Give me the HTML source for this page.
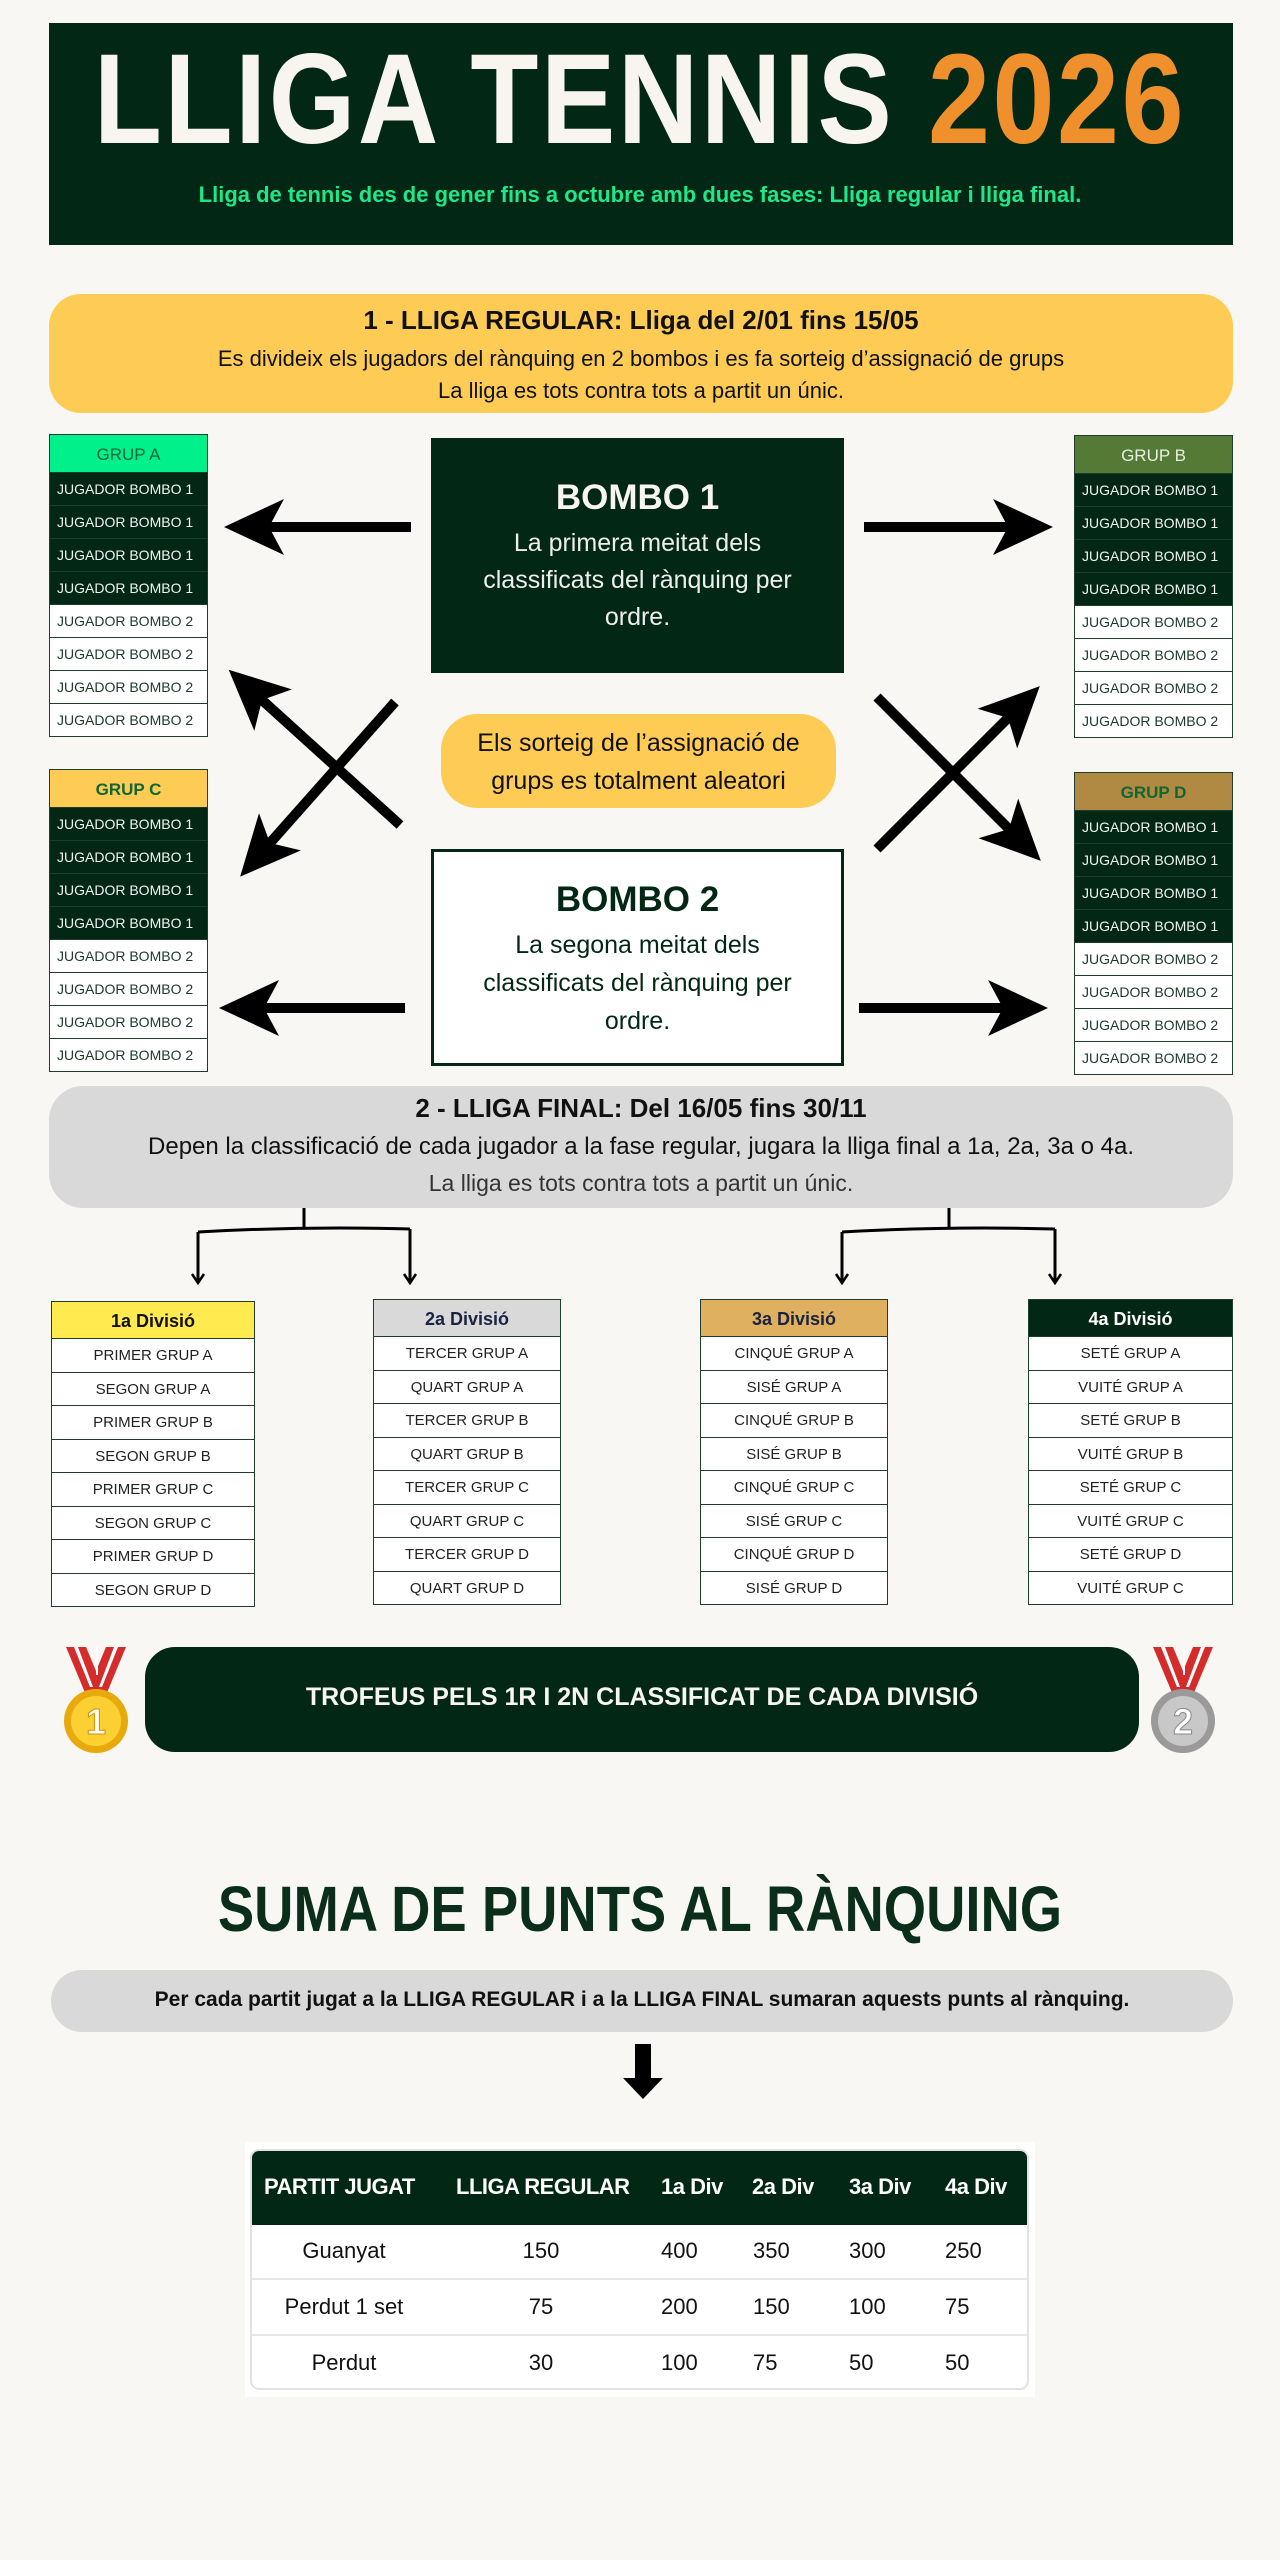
<!DOCTYPE html>
<html><head><meta charset="utf-8"><style>
*{margin:0;padding:0;box-sizing:border-box}
body{width:1280px;height:2560px;background:#f8f7f3;position:relative;font-family:"Liberation Sans",sans-serif;overflow:hidden}
.a{position:absolute}
.c{text-align:center}
.grp{position:absolute;width:159px}
.grp div{height:33px;line-height:33px;font-size:14px;padding-left:7px;border:1px solid #1f3d2a;border-top:none;white-space:nowrap;overflow:hidden}
.grp .h{height:39px;line-height:39px;font-size:17px;text-align:center;padding:0;border-top:1px solid #1f3d2a}
.grp .d{background:#022815;color:#f2f2f2}
.grp .w{background:#fff;color:#1b3a29}
.div{position:absolute}
.div div{height:33.5px;line-height:33px;font-size:15px;text-align:center;border:1.5px solid #1f3d2a;border-top:none;background:#fff;color:#222}
.div .h{height:38px;line-height:38px;font-size:18px;font-weight:bold;border-top:1.5px solid #1f3d2a}
</style></head><body>

<div class="a" style="left:49px;top:23px;width:1184px;height:222px;background:#022815"></div>
<div class="a c" style="left:0;top:30px;width:1280px;font-size:128px;font-weight:bold;line-height:140px;color:#f7f5ee;transform:scaleX(0.87);letter-spacing:3px">LLIGA TENNIS <span style="color:#f0902c">2026</span></div>
<div class="a c" style="left:0;top:182px;width:1280px;font-size:22px;font-weight:bold;color:#1ce88a">Lliga de tennis des de gener fins a octubre amb dues fases: Lliga regular i lliga final.</div>

<div class="a" style="left:49px;top:294px;width:1184px;height:119px;background:#fecb55;border-radius:32px"></div>
<div class="a c" style="left:49px;top:305px;width:1184px;font-size:26px;font-weight:bold;color:#111">1 - LLIGA REGULAR: Lliga del 2/01 fins 15/05</div>
<div class="a c" style="left:49px;top:343px;width:1184px;font-size:22px;color:#111;line-height:32px">Es divideix els jugadors del rànquing en 2 bombos i es fa sorteig d’assignació de grups<br>La lliga es tots contra tots a partit un únic.</div>

<div class="grp" style="left:49px;top:434px"><div class="h" style="background:#00f08c;color:#163">GRUP A</div><div class="d">JUGADOR BOMBO 1</div><div class="d">JUGADOR BOMBO 1</div><div class="d">JUGADOR BOMBO 1</div><div class="d">JUGADOR BOMBO 1</div><div class="w">JUGADOR BOMBO 2</div><div class="w">JUGADOR BOMBO 2</div><div class="w">JUGADOR BOMBO 2</div><div class="w">JUGADOR BOMBO 2</div></div>
<div class="grp" style="left:1074px;top:435px"><div class="h" style="background:#557a35;color:#e8efe0">GRUP B</div><div class="d">JUGADOR BOMBO 1</div><div class="d">JUGADOR BOMBO 1</div><div class="d">JUGADOR BOMBO 1</div><div class="d">JUGADOR BOMBO 1</div><div class="w">JUGADOR BOMBO 2</div><div class="w">JUGADOR BOMBO 2</div><div class="w">JUGADOR BOMBO 2</div><div class="w">JUGADOR BOMBO 2</div></div>
<div class="grp" style="left:49px;top:769px"><div class="h" style="background:#fecb55;color:#163;font-weight:bold">GRUP C</div><div class="d">JUGADOR BOMBO 1</div><div class="d">JUGADOR BOMBO 1</div><div class="d">JUGADOR BOMBO 1</div><div class="d">JUGADOR BOMBO 1</div><div class="w">JUGADOR BOMBO 2</div><div class="w">JUGADOR BOMBO 2</div><div class="w">JUGADOR BOMBO 2</div><div class="w">JUGADOR BOMBO 2</div></div>
<div class="grp" style="left:1074px;top:772px"><div class="h" style="background:#b08a42;color:#163;font-weight:bold">GRUP D</div><div class="d">JUGADOR BOMBO 1</div><div class="d">JUGADOR BOMBO 1</div><div class="d">JUGADOR BOMBO 1</div><div class="d">JUGADOR BOMBO 1</div><div class="w">JUGADOR BOMBO 2</div><div class="w">JUGADOR BOMBO 2</div><div class="w">JUGADOR BOMBO 2</div><div class="w">JUGADOR BOMBO 2</div></div>

<div class="a" style="left:431px;top:438px;width:413px;height:235px;background:#022815"></div>
<div class="a c" style="left:431px;top:478px;width:413px;font-size:35px;font-weight:bold;color:#f7f5ee">BOMBO 1</div>
<div class="a c" style="left:431px;top:525px;width:413px;font-size:25px;line-height:37px;color:#eee">La primera meitat dels<br>classificats del rànquing per<br>ordre.</div>

<div class="a" style="left:431px;top:849px;width:413px;height:217px;background:#fff;border:3px solid #022815"></div>
<div class="a c" style="left:431px;top:880px;width:413px;font-size:35px;font-weight:bold;color:#022815">BOMBO 2</div>
<div class="a c" style="left:431px;top:926px;width:413px;font-size:25px;line-height:38px;color:#022815">La segona meitat dels<br>classificats del rànquing per<br>ordre.</div>

<div class="a" style="left:441px;top:714px;width:395px;height:94px;background:#fecb55;border-radius:36px"></div>
<div class="a c" style="left:441px;top:724px;width:395px;font-size:25px;line-height:38px;color:#111">Els sorteig de l’assignació de<br>grups es totalment aleatori</div>

<svg class="a" style="left:0;top:0" width="1280" height="2560">
<defs><marker id="ah" markerUnits="userSpaceOnUse" viewBox="0 -30 62 60" refX="15" refY="0" markerWidth="62" markerHeight="60" orient="auto"><path d="M60,0 L0,-28 L15,0 L0,28Z" fill="#000"/></marker>
<marker id="sh" markerUnits="userSpaceOnUse" viewBox="0 -8 12 16" refX="10" refY="0" markerWidth="12" markerHeight="16" orient="auto"><path d="M1,-6 L10,0 L1,6" fill="none" stroke="#000" stroke-width="2.5"/></marker></defs>
<g stroke="#000" stroke-width="10" marker-end="url(#ah)">
<line x1="411" y1="527" x2="269" y2="527"/>
<line x1="864" y1="527" x2="1008" y2="527"/>
<line x1="405" y1="1008" x2="264" y2="1008"/>
<line x1="859" y1="1008" x2="1003" y2="1008"/>
<line x1="400" y1="825" x2="262" y2="700"/>
<line x1="395" y1="702" x2="270" y2="843"/>
<line x1="877" y1="697" x2="1009" y2="829"/>
<line x1="877" y1="849" x2="1008" y2="718"/>
</g>
</svg>

<div class="a" style="left:49px;top:1086px;width:1184px;height:122px;background:#d9d9d9;border-radius:34px"></div>
<div class="a c" style="left:49px;top:1093px;width:1184px;font-size:26px;font-weight:bold;color:#111">2 - LLIGA FINAL: Del 16/05 fins 30/11</div>
<div class="a c" style="left:49px;top:1133px;width:1184px;font-size:24px;color:#111">Depen la classificació de cada jugador a la fase regular, jugara la lliga final a 1a, 2a, 3a o 4a.</div>
<div class="a c" style="left:49px;top:1170px;width:1184px;font-size:23px;color:#333">La lliga es tots contra tots a partit un únic.</div>

<svg class="a" style="left:0;top:0" width="1280" height="1300">
<g fill="none" stroke="#000" stroke-width="3">
<path d="M304,1208 V1229"/><path d="M949,1208 V1229"/>
<path d="M198,1232 Q304,1226 410,1229" /><path d="M842,1232 Q949,1226 1055,1229"/>
<path d="M198,1232 V1283" marker-end="url(#sh)"/><path d="M410,1229 V1283" marker-end="url(#sh)"/>
<path d="M842,1232 V1283" marker-end="url(#sh)"/><path d="M1055,1229 V1283" marker-end="url(#sh)"/>
</g></svg>

<div class="div" style="left:51px;top:1301px;width:204px"><div class="h" style="background:#ffeb50;color:#111">1a Divisió</div><div>PRIMER GRUP A</div><div>SEGON GRUP A</div><div>PRIMER GRUP B</div><div>SEGON GRUP B</div><div>PRIMER GRUP C</div><div>SEGON GRUP C</div><div>PRIMER GRUP D</div><div>SEGON GRUP D</div></div>
<div class="div" style="left:373px;top:1299px;width:188px"><div class="h" style="background:#d9d9d9;color:#1a2340">2a Divisió</div><div>TERCER GRUP A</div><div>QUART GRUP A</div><div>TERCER GRUP B</div><div>QUART GRUP B</div><div>TERCER GRUP C</div><div>QUART GRUP C</div><div>TERCER GRUP D</div><div>QUART GRUP D</div></div>
<div class="div" style="left:700px;top:1299px;width:188px"><div class="h" style="background:#dfb060;color:#1a2340">3a Divisió</div><div>CINQUÉ GRUP A</div><div>SISÉ GRUP A</div><div>CINQUÉ GRUP B</div><div>SISÉ GRUP B</div><div>CINQUÉ GRUP C</div><div>SISÉ GRUP C</div><div>CINQUÉ GRUP D</div><div>SISÉ GRUP D</div></div>
<div class="div" style="left:1028px;top:1299px;width:205px"><div class="h" style="background:#022815;color:#fff">4a Divisió</div><div>SETÉ GRUP A</div><div>VUITÉ GRUP A</div><div>SETÉ GRUP B</div><div>VUITÉ GRUP B</div><div>SETÉ GRUP C</div><div>VUITÉ GRUP C</div><div>SETÉ GRUP D</div><div>VUITÉ GRUP C</div></div>

<div class="a" style="left:145px;top:1647px;width:994px;height:105px;background:#022815;border-radius:30px"></div>
<div class="a c" style="left:145px;top:1683px;width:994px;font-size:25px;font-weight:bold;color:#f7f5ee">TROFEUS PELS 1R I 2N CLASSIFICAT DE CADA DIVISIÓ</div>

<svg class="a" style="left:60px;top:1645px" width="80" height="110">
<path d="M6,2 L26,50 L46,50 L26,2Z" fill="#d42b2b"/><path d="M66,2 L46,50 L26,50 L46,2Z" fill="#d42b2b"/><path d="M14,2 L30,42 L33,42 L18,2 M58,2 L42,42 L39,42 L54,2 M36,2 L36,30 L38,30 L38,2" fill="#fff"/>
<circle cx="36" cy="76" r="32" fill="#e8a90c"/><circle cx="36" cy="76" r="25" fill="#fcd033"/>
<text x="36" y="89" text-anchor="middle" font-family="Liberation Sans" font-weight="bold" font-size="36" fill="#fff" stroke="#d48f00" stroke-width="1">1</text></svg>
<svg class="a" style="left:1147px;top:1645px" width="80" height="110">
<path d="M6,2 L26,50 L46,50 L26,2Z" fill="#d42b2b"/><path d="M66,2 L46,50 L26,50 L46,2Z" fill="#d42b2b"/><path d="M14,2 L30,42 L33,42 L18,2 M58,2 L42,42 L39,42 L54,2 M36,2 L36,30 L38,30 L38,2" fill="#fff"/>
<circle cx="36" cy="76" r="32" fill="#9a9a9a"/><circle cx="36" cy="76" r="25" fill="#c8c8c8"/>
<text x="36" y="89" text-anchor="middle" font-family="Liberation Sans" font-weight="bold" font-size="36" fill="#fff" stroke="#888" stroke-width="1">2</text></svg>

<div class="a c" style="left:0;top:1872px;width:1280px;font-size:64px;font-weight:bold;color:#0a2e1a;transform:scaleX(0.85)">SUMA DE PUNTS AL RÀNQUING</div>

<div class="a" style="left:51px;top:1970px;width:1182px;height:62px;background:#d9d9d9;border-radius:31px"></div>
<div class="a c" style="left:51px;top:1988px;width:1182px;font-size:21px;font-weight:bold;color:#111">Per cada partit jugat a la LLIGA REGULAR i a la LLIGA FINAL sumaran aquests punts al rànquing.</div>

<svg class="a" style="left:620px;top:2042px" width="46" height="60"><path d="M15,2 H31 V36 H43 L23,57 L3,36 H15Z" fill="#000"/></svg>

<div class="a" style="left:245px;top:2142px;width:790px;height:255px;background:#fff"></div>
<div class="a" style="left:250px;top:2149px;width:779px;height:241px;border:2px solid #e2e2e2;border-radius:9px;overflow:hidden;background:#fff">
<div style="height:74px;background:#022815"></div>
<div style="height:55px;border-bottom:2px solid #e6e6e6"></div>
<div style="height:56px;border-bottom:2px solid #e6e6e6"></div>
</div>
<div class="a" style="left:0;top:2174px;width:1280px;font-size:22px;font-weight:bold;color:#fff;letter-spacing:-0.5px">
<span class="a" style="left:264px;white-space:nowrap">PARTIT JUGAT</span>
<span class="a" style="left:456px;white-space:nowrap">LLIGA REGULAR</span>
<span class="a" style="left:661px;white-space:nowrap">1a Div</span>
<span class="a" style="left:752px;white-space:nowrap">2a Div</span>
<span class="a" style="left:849px;white-space:nowrap">3a Div</span>
<span class="a" style="left:945px;white-space:nowrap">4a Div</span>
</div>
<div class="a" style="left:0;top:2238px;width:1280px;font-size:22px;color:#111">
<span class="a c" style="left:264px;width:160px">Guanyat</span><span class="a c" style="left:501px;width:80px">150</span><span class="a" style="left:661px">400</span><span class="a" style="left:753px">350</span><span class="a" style="left:849px">300</span><span class="a" style="left:945px">250</span>
</div>
<div class="a" style="left:0;top:2294px;width:1280px;font-size:22px;color:#111">
<span class="a c" style="left:264px;width:160px">Perdut 1 set</span><span class="a c" style="left:501px;width:80px">75</span><span class="a" style="left:661px">200</span><span class="a" style="left:753px">150</span><span class="a" style="left:849px">100</span><span class="a" style="left:945px">75</span>
</div>
<div class="a" style="left:0;top:2350px;width:1280px;font-size:22px;color:#111">
<span class="a c" style="left:264px;width:160px">Perdut</span><span class="a c" style="left:501px;width:80px">30</span><span class="a" style="left:661px">100</span><span class="a" style="left:753px">75</span><span class="a" style="left:849px">50</span><span class="a" style="left:945px">50</span>
</div>
</body></html>
